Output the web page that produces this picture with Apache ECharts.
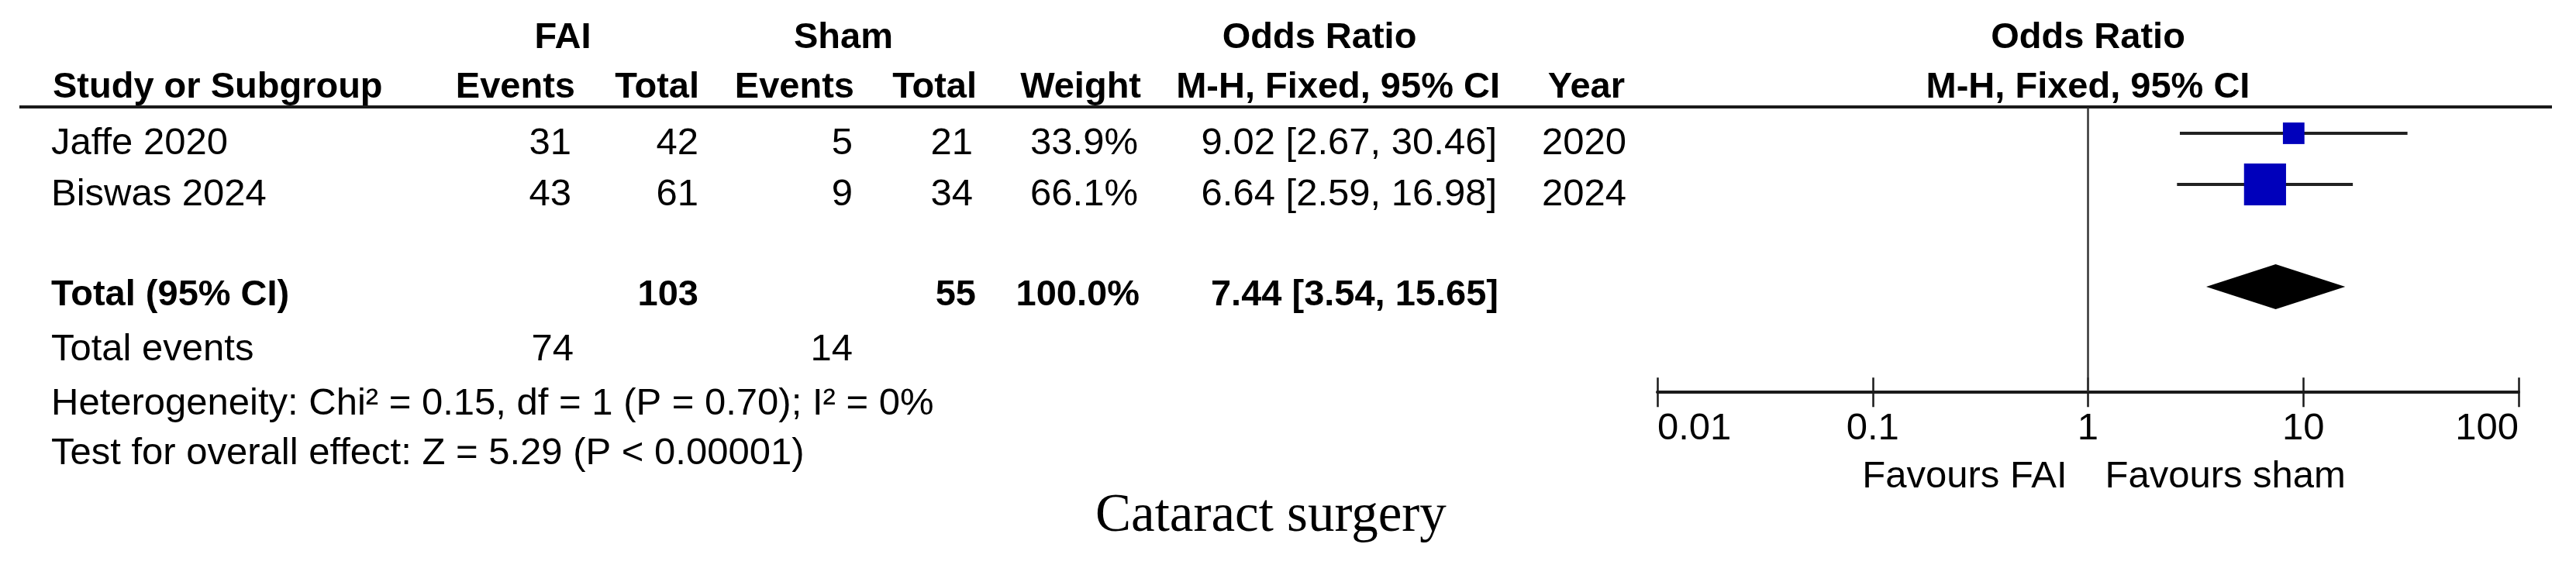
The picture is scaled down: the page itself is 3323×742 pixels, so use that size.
<!DOCTYPE html>
<html>
<head>
<meta charset="utf-8">
<script src="https://cdn.jsdelivr.net/npm/echarts@6/dist/echarts.min.js"></script>
<style>
  html, body { margin: 0; padding: 0; background: #fff; }
  #forest { width: 3323px; height: 742px; }
</style>
</head>
<body>
<div id="forest"></div>
<script>
// study rows
const studies = ['Jaffe 2020', 'Biswas 2024'];
const faiEvents = [31, 43];
const faiTotal = [42, 61];
const shamEvents = [5, 9];
const shamTotal = [21, 34];
const weights = [33.9, 66.1];
const oddsRatio = [9.02, 6.64];
const ciLow = [2.67, 2.59];
const ciHigh = [30.46, 16.98];
const years = [2020, 2024];

// pooled result
const pooledOR = [7.44, 3.54, 15.65]; // estimate, lower, upper
const pooledTotals = [103, 55];
const pooledEvents = [74, 14];
const pooledWeight = '100.0%';

const axisTicks = [0.01, 0.1, 1, 10, 100];
const footnotes = [
  'Heterogeneity: Chi\u00b2 = 0.15, df = 1 (P = 0.70); I\u00b2 = 0%',
  'Test for overall effect: Z = 5.29 (P < 0.00001)',
];
const favours = ['Favours FAI', 'Favours sham'];
const caption = 'Cataract surgery';

const SANS = '"Liberation Sans", Arial, sans-serif';
const SERIF = '"Liberation Serif", "Times New Roman", serif';
const FS = 49;   // regular text
const FSB = 47;  // bold text
const TEXT_SHIFT = 13; // text sits a bit below the marker row

const chart = echarts.init(document.getElementById('forest'), null, { renderer: 'canvas' });

const fmtCI = (o, l, h) => `${o.toFixed(2)} [${l.toFixed(2)}, ${h.toFixed(2)}]`;

const studyData = studies.map((s, i) => [oddsRatio[i], ciLow[i], ciHigh[i], i, weights[i]]);
const pooledRow = studies.length + 1;

chart.setOption({
  animation: false,
  backgroundColor: '#fff',
  grid: { left: 2138, width: 1111, top: 139, height: 366.3 },
  xAxis: [
    {
      type: 'log', logBase: 10, min: 0.01, max: 100,
      axisLine: { show: true, onZero: false, lineStyle: { color: '#1a1a1a', width: 4 } },
      axisTick: { show: true, inside: false, length: 20, lineStyle: { color: '#1a1a1a', width: 2.5 } },
      axisLabel: {
        show: true, margin: 24, color: '#000', fontSize: FS, fontFamily: SANS,
        alignMinLabel: 'left', alignMaxLabel: 'right',
        formatter: (v) => {
          const hit = axisTicks.find((t) => Math.abs(Math.log10(t) - Math.log10(v)) < 1e-6);
          return hit === undefined ? '' : String(hit);
        },
      },
      splitLine: { show: false },
    },
    {
      type: 'log', logBase: 10, min: 0.01, max: 100, position: 'bottom', offset: 0,
      axisLine: { show: false, onZero: false },
      axisTick: { show: true, inside: true, length: 18, lineStyle: { color: '#1a1a1a', width: 2.5 } },
      axisLabel: { show: false },
      splitLine: { show: false },
    },
  ],
  yAxis: { type: 'value', inverse: true, min: -0.5, max: 5.05, show: false },
  series: [
    {
      type: 'custom',
      name: 'studies',
      data: studyData,
      renderItem: (params, api) => {
        const lo = api.coord([api.value(1), api.value(3)]);
        const hi = api.coord([api.value(2), api.value(3)]);
        const mid = api.coord([api.value(0), api.value(3)]);
        const side = api.value(4) * 0.82;
        return {
          type: 'group',
          children: [
            { type: 'line', shape: { x1: lo[0], y1: lo[1], x2: hi[0], y2: hi[1] },
              style: { stroke: '#222', lineWidth: 4 } },
            { type: 'rect', shape: { x: mid[0] - side / 2, y: mid[1] - side / 2, width: side, height: side },
              style: { fill: '#0000bb' } },
          ],
        };
      },
      markLine: {
        silent: true, symbol: 'none', label: { show: false },
        lineStyle: { color: '#333', width: 2.5, type: 'solid' },
        data: [{ xAxis: 1 }],
      },
      z: 3,
    },
    {
      type: 'custom',
      name: 'pooled',
      data: [[pooledOR[0], pooledOR[1], pooledOR[2], pooledRow]],
      renderItem: (params, api) => {
        const lo = api.coord([api.value(1), api.value(3)]);
        const hi = api.coord([api.value(2), api.value(3)]);
        const mid = api.coord([api.value(0), api.value(3)]);
        const half = 29;
        return {
          type: 'polygon',
          shape: { points: [lo, [mid[0], mid[1] - half], hi, [mid[0], mid[1] + half]] },
          style: { fill: '#000' },
        };
      },
      z: 4,
    },
  ],
});

// table text placed on the same row scale as the forest plot
const rowY = (r) => chart.convertToPixel({ gridIndex: 0 }, [1, r])[1] + TEXT_SHIFT;
const x1 = chart.convertToPixel({ gridIndex: 0 }, [1, 0])[0];

function txt(text, x, y, align, bold, extra) {
  return Object.assign({
    type: 'text', silent: true,
    style: {
      text: String(text), x, y,
      align, textAlign: align, verticalAlign: 'middle', textVerticalAlign: 'middle',
      fill: '#000', fontSize: bold ? FSB : FS, fontWeight: bold ? 'bold' : 'normal', fontFamily: SANS,
    },
  }, extra || {});
}

// column anchors (right edges, headers sit a few px to the right)
const col = { name: 66, faiE: 737, faiT: 901, shamE: 1100, shamT: 1255, weight: 1468, ci: 1931, year: 2098 };
const headY1 = 49;
const headY2 = 113;

const els = [];
// header
els.push(txt('FAI', 726, headY1, 'center', true));
els.push(txt('Sham', 1088, headY1, 'center', true));
els.push(txt('Odds Ratio', 1702, headY1, 'center', true));
els.push(txt('Odds Ratio', x1, headY1, 'center', true));
els.push(txt('Study or Subgroup', 68, headY2, 'left', true));
els.push(txt('Events', col.faiE + 5, headY2, 'right', true));
els.push(txt('Total', col.faiT + 1, headY2, 'right', true));
els.push(txt('Events', col.shamE + 2, headY2, 'right', true));
els.push(txt('Total', col.shamT + 5, headY2, 'right', true));
els.push(txt('Weight', col.weight + 4, headY2, 'right', true));
els.push(txt('M-H, Fixed, 95% CI', col.ci + 4, headY2, 'right', true));
els.push(txt('Year', col.year - 2, headY2, 'right', true));
els.push(txt('M-H, Fixed, 95% CI', x1, headY2, 'center', true));
els.push({ type: 'line', silent: true, shape: { x1: 25, y1: 138, x2: 3292, y2: 138 },
  style: { stroke: '#1a1a1a', lineWidth: 4 } });

// study rows
studies.forEach((s, i) => {
  const y = rowY(i);
  els.push(txt(s, col.name, y, 'left'));
  els.push(txt(faiEvents[i], col.faiE, y, 'right'));
  els.push(txt(faiTotal[i], col.faiT, y, 'right'));
  els.push(txt(shamEvents[i], col.shamE, y, 'right'));
  els.push(txt(shamTotal[i], col.shamT, y, 'right'));
  els.push(txt(weights[i].toFixed(1) + '%', col.weight, y, 'right'));
  els.push(txt(fmtCI(oddsRatio[i], ciLow[i], ciHigh[i]), col.ci, y, 'right'));
  els.push(txt(years[i], col.year, y, 'right'));
});

// pooled row
const yp = rowY(pooledRow) - 2;
els.push(txt('Total (95% CI)', col.name, yp, 'left', true));
els.push(txt(pooledTotals[0], col.faiT, yp, 'right', true));
els.push(txt(pooledTotals[1], col.shamT + 4, yp, 'right', true));
els.push(txt(pooledWeight, col.weight + 2, yp, 'right', true));
els.push(txt(fmtCI(pooledOR[0], pooledOR[1], pooledOR[2]), col.ci + 2, yp, 'right', true));

const yEv = 451;
els.push(txt('Total events', col.name, yEv, 'left'));
els.push(txt(pooledEvents[0], col.faiE + 3, yEv, 'right'));
els.push(txt(pooledEvents[1], col.shamE, yEv, 'right'));
els.push(txt(footnotes[0], col.name, 521, 'left'));
els.push(txt(footnotes[1], col.name, 585, 'left'));

// favours labels either side of the null line
els.push(txt(favours[0], x1 - 27, 615, 'right'));
els.push(txt(favours[1], x1 + 22, 615, 'left'));

// caption
els.push({
  type: 'text', silent: true,
  style: {
    text: caption, x: 1413, y: 667, align: 'left', textAlign: 'left',
    verticalAlign: 'middle', textVerticalAlign: 'middle',
    fill: '#000', fontSize: 69, fontFamily: SERIF,
  },
});

chart.setOption({ graphic: { elements: els } });
</script>
</body>
</html>
